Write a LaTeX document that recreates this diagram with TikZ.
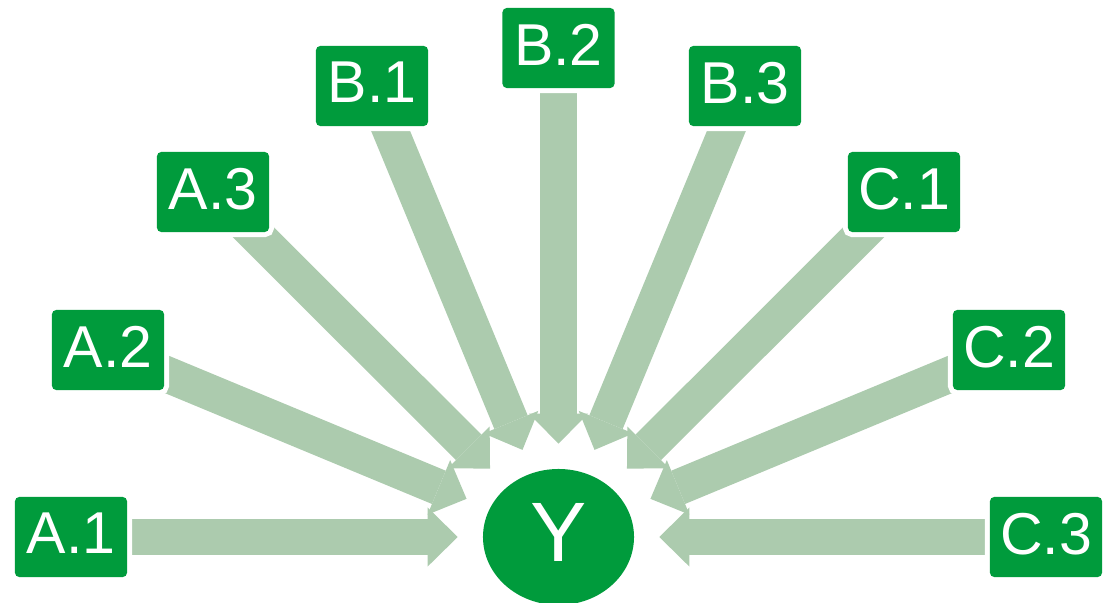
\documentclass[tikz,border=0pt]{standalone}
\usepackage{fontspec}
\setmainfont{Liberation Sans}
\usetikzlibrary{arrows.meta,shapes.geometric,backgrounds}
\definecolor{boxgreen}{RGB}{0,155,60}
\definecolor{flowgreen}{RGB}{172,203,174}
\begin{document}
\begin{tikzpicture}[x=0.025cm, y=-0.025cm,
  src/.style={fill=boxgreen, text=white, rounded corners=3pt, minimum width=2.8cm,
    minimum height=2cm, inner sep=0pt, text depth=0.17cm, font=\fontsize{42}{48}\selectfont,
    preaction={draw=white, line width=0.25cm}},
  target/.style={ellipse, fill=boxgreen, text=white, minimum width=3.775cm,
    minimum height=3.4cm, inner sep=0pt, text depth=0.22cm, font=\fontsize{60}{66}\selectfont},
  flow/.style={draw=flowgreen, line width=0.9cm, shorten >=0.625cm,
    -{Triangle[length=0.75cm, width=1.475cm, line width=0pt]}}]
\useasboundingbox (0,0) rectangle (1107,603);
\node[target] (y) at (558.5,537) {Y};
\foreach \n/\px/\py/\t in {a1/71/537/A.1, a2/108/350/A.2, a3/213/192/A.3,
    b1/372/86/B.1, b2/558.5/48/B.2, b3/745/86/B.3,
    c1/904/192/C.1, c2/1009/350/C.2, c3/1046/537/C.3}
  \node[src] (\n) at (\px,\py) {\t};
\begin{scope}[on background layer]
  \foreach \n in {a1,a2,a3,b1,b2,b3,c1,c2,c3} \draw[flow] (\n.center) -- (y);
\end{scope}
\end{tikzpicture}
\end{document}
